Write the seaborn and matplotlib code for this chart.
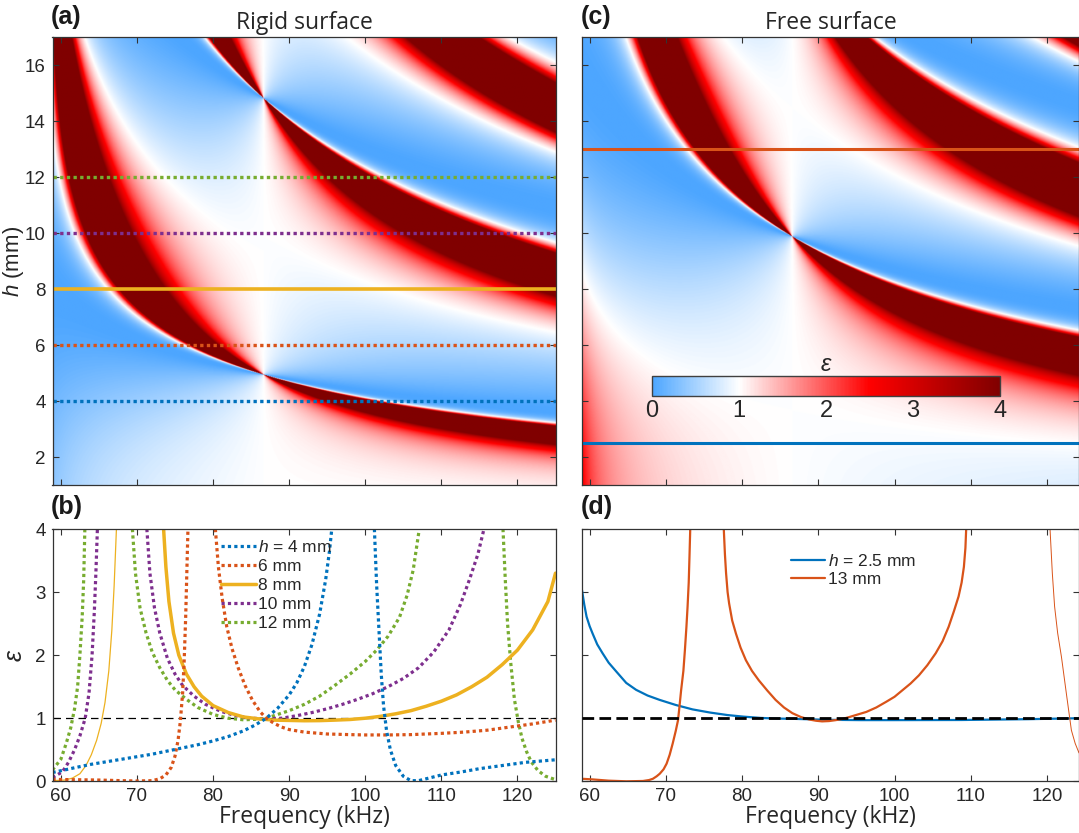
import numpy as np
import pandas as pd
import matplotlib
matplotlib.use("Agg")
import matplotlib.pyplot as plt
from matplotlib.colors import LinearSegmentedColormap
from matplotlib.lines import Line2D
import seaborn as sns

CUT_P = 56.9        # kHz, cutoff of guided wave (pole lines)
GAIN_P = 0.004873   # rad/(mm kHz)
CUT_Z = 41.2        # kHz (zero lines)
GAIN_Z = 0.0472     # rad/(mm kHz^0.5)
F_RANGE_A = [58.9, 125.0]
F_RANGE_C = [59.0, 124.2]
H_RANGE = [1.0, 17.0]

# cut lines drawn on the maps
cuts_a_h = [4, 6, 8, 10, 12]
cuts_a_colors = ['#0072BD', '#D95319', '#EDB120', '#7E2F8E', '#77AC30']
cuts_a_solid = [False, False, True, False, False]
cuts_c_h = [2.5, 13]
cuts_c_colors = ['#0072BD', '#D95319']

# ---------------- panel (b): eps along the cuts ----------------
b_h4_f1 = [58.9, 60.5, 62, 64, 66, 68, 70, 72, 74, 76, 78, 80, 82, 84, 85.5, 87, 88.5, 90, 91, 92, 93, 94, 94.8, 95.3, 95.6]
b_h4_e1 = [0.14, 0.18, 0.22, 0.27, 0.31, 0.35, 0.39, 0.43, 0.48, 0.53, 0.58, 0.64, 0.71, 0.80, 0.89, 1.0, 1.16, 1.37, 1.56, 1.82, 2.17, 2.65, 3.2, 3.65, 4.0]
b_h4_f2 = [101.2, 101.5, 101.8, 102.1, 102.4, 102.8, 103.3, 104, 105, 106, 107, 108, 110, 112.7, 115, 118, 121, 124.9]
b_h4_e2 = [4.0, 3.1, 2.4, 1.7, 1.2, 0.8, 0.5, 0.25, 0.08, 0.01, 0.01, 0.04, 0.1, 0.15, 0.2, 0.25, 0.3, 0.34]
b_h6_f1 = [58.9, 62, 65, 68, 70, 72, 73, 73.8, 74.5, 75, 75.4, 75.7, 76.0, 76.2, 76.4, 76.55, 76.7]
b_h6_e1 = [0.03, 0.025, 0.02, 0.01, 0.005, 0.01, 0.04, 0.1, 0.22, 0.4, 0.65, 0.95, 1.4, 1.9, 2.6, 3.3, 4.0]
b_h6_f2 = [80.3, 80.7, 81.2, 81.8, 82.5, 83.3, 84.2, 85.2, 86.2, 87, 88, 89, 90, 92, 95, 98, 100, 103, 106, 110, 113, 116, 119, 122, 125]
b_h6_e2 = [4.0, 3.4, 2.9, 2.45, 2.1, 1.8, 1.52, 1.28, 1.1, 1.0, 0.92, 0.86, 0.82, 0.78, 0.75, 0.74, 0.735, 0.735, 0.74, 0.76, 0.78, 0.81, 0.86, 0.91, 0.97]
b_h8_f1 = [58.9, 60.5, 61.5, 62.5, 63.3, 64, 64.7, 65.3, 65.8, 66.3, 66.7, 67.0, 67.3]
b_h8_e1 = [0.01, 0.02, 0.05, 0.12, 0.25, 0.42, 0.65, 0.92, 1.25, 1.75, 2.4, 3.1, 4.0]
b_h8_f2 = [73.5, 73.8, 74.2, 74.8, 75.5, 76.5, 77.5, 78.5, 80, 82, 84, 86, 88, 90, 92, 94, 96, 98, 100, 102, 104, 106, 108, 110, 112, 114, 116, 118, 120, 122, 124, 125]
b_h8_e2 = [4.0, 3.4, 2.85, 2.35, 2.0, 1.7, 1.5, 1.35, 1.2, 1.09, 1.02, 0.99, 0.97, 0.965, 0.96, 0.962, 0.97, 0.98, 1.0, 1.03, 1.07, 1.12, 1.19, 1.27, 1.37, 1.5, 1.65, 1.85, 2.08, 2.4, 2.85, 3.3]
b_h10_f1 = [58.9, 60.2, 61, 61.8, 62.5, 63.2, 63.7, 64.1, 64.4, 64.6, 64.8]
b_h10_e1 = [0.06, 0.15, 0.3, 0.5, 0.72, 1.0, 1.4, 2.0, 2.7, 3.3, 4.0]
b_h10_f2 = [71.3, 71.7, 72.3, 73, 74, 75, 76, 77.5, 79, 81, 83, 85, 87, 89, 91, 93, 95, 97, 99, 101, 103, 105, 107, 109, 111, 112.5, 113.7, 114.8, 115.6]
b_h10_e2 = [4.0, 3.3, 2.75, 2.35, 1.95, 1.7, 1.52, 1.35, 1.22, 1.11, 1.04, 1.0, 0.99, 1.0, 1.04, 1.09, 1.15, 1.22, 1.3, 1.39, 1.5, 1.63, 1.8, 2.05, 2.4, 2.8, 3.2, 3.6, 4.0]
b_h12_f1 = [58.9, 60, 60.7, 61.3, 61.8, 62.2, 62.5, 62.8, 63.0, 63.15]
b_h12_e1 = [0.18, 0.35, 0.6, 0.85, 1.15, 1.5, 2.0, 2.6, 3.2, 4.0]
b_h12_f2 = [69.4, 69.8, 70.4, 71.2, 72, 73, 74, 75, 76.5, 78, 80, 82, 84, 86, 87, 88, 90, 92, 94, 96, 98, 100, 101.5, 103, 104.5, 105.5, 106.3, 107.1]
b_h12_e2 = [4.0, 3.3, 2.75, 2.35, 2.05, 1.8, 1.6, 1.45, 1.3, 1.17, 1.06, 1.0, 0.975, 0.985, 1.0, 1.04, 1.12, 1.22, 1.35, 1.52, 1.7, 1.9, 2.08, 2.3, 2.6, 2.95, 3.35, 4.0]
b_h12_f3 = [118.1, 118.4, 118.7, 119.1, 119.6, 120.1, 120.6, 121.2, 121.8, 122.7, 123.7, 124.9]
b_h12_e3 = [4.0, 3.2, 2.5, 1.9, 1.3, 0.95, 0.68, 0.47, 0.31, 0.17, 0.08, 0.03]

# ---------------- panel (d) ----------------
d_h25_f = [59.0, 59.3, 59.6, 60.0, 60.4, 61.0, 61.7, 62.5, 63.5, 64.8, 66.1, 67.6, 69.2, 71.3, 73.5, 75.8, 78.1, 80.2, 82.4, 84.5, 86.8, 91.2, 95.6, 100, 108.8, 117.6, 124.2]
d_h25_e = [3.03, 2.8, 2.61, 2.46, 2.34, 2.17, 2.03, 1.88, 1.74, 1.56, 1.45, 1.36, 1.29, 1.21, 1.14, 1.09, 1.05, 1.025, 1.005, 0.995, 0.99, 0.975, 0.97, 0.97, 0.972, 0.985, 1.0]
d_h13_f1 = [59.0, 60.4, 62.5, 64.8, 67, 67.8, 68.3, 68.8, 69.2, 69.7, 70.1, 70.5, 70.9, 71.3, 71.6, 71.8, 72.0, 72.3, 72.5, 72.7, 72.85, 73.0, 73.1, 73.2]
d_h13_e1 = [0.04, 0.03, 0.01, 0.0, 0.005, 0.02, 0.04, 0.08, 0.12, 0.19, 0.28, 0.42, 0.6, 0.8, 0.97, 1.2, 1.44, 1.75, 2.08, 2.45, 2.77, 3.15, 3.56, 4.0]
d_h13_f2 = [77.6, 77.75, 77.9, 78.1, 78.3, 78.7, 79.2, 79.8, 80.5, 81.3, 82.2, 83.3, 84.4, 85.5, 86.6, 87.7, 88.8, 89.7, 90.5, 91.4, 92.3, 93.2, 94.1, 95.2, 96.3, 97.6, 98.9, 100, 101, 102.1, 103.2, 104.3, 105.4, 106.3, 107.1, 107.8, 108.4, 108.8, 109.1, 109.3, 109.4]
d_h13_e2 = [4.0, 3.6, 3.3, 3.0, 2.82, 2.55, 2.34, 2.12, 1.92, 1.75, 1.6, 1.44, 1.29, 1.17, 1.08, 1.02, 0.98, 0.96, 0.95, 0.955, 0.97, 0.99, 1.02, 1.06, 1.1, 1.17, 1.26, 1.34, 1.44, 1.55, 1.68, 1.84, 2.03, 2.22, 2.45, 2.7, 2.93, 3.15, 3.4, 3.7, 4.0]
d_h13_f3 = [120.4, 120.7, 121.0, 121.4, 121.9, 122.6, 123.2, 123.7, 124.2]
d_h13_e3 = [4.0, 3.3, 2.77, 2.35, 1.97, 1.34, 0.81, 0.6, 0.45]

# ---------------- style ----------------
sns.set_theme(style="ticks")
plt.rcParams['font.family'] = ['Liberation Sans', 'DejaVu Sans']
plt.rcParams['mathtext.fontset'] = 'custom'
plt.rcParams['mathtext.it'] = 'Liberation Sans:italic'
plt.rcParams['mathtext.rm'] = 'Liberation Sans'
TXT = '#262626'
SPINE = '#333333'

cmap = LinearSegmentedColormap.from_list(
    'eps', [(0.0, '#4DA6FF'), (0.25, '#FFFFFF'), (0.625, '#FF0000'), (1.0, '#800000')])

W, H = 1079, 833
fig = plt.figure(figsize=(W / 100, H / 100), dpi=100)

def rect(l, t, r, b):
    return [l / W, 1 - b / H, (r - l) / W, (b - t) / H]

ax_a = fig.add_axes(rect(52.5, 37.3, 555.5, 485))
ax_b = fig.add_axes(rect(52.5, 529, 555.5, 781.3))
ax_c = fig.add_axes(rect(582, 37.3, 1079, 485))
ax_d = fig.add_axes(rect(582, 529, 1079, 781.3))

def wave_k(f):
    return GAIN_P * np.sqrt(f ** 2 - CUT_P ** 2)

def coupling_k(f):
    return GAIN_Z * np.sqrt(f - CUT_Z)

def field(frange, kind):
    f = np.linspace(frange[0], frange[1], 900)
    h = np.linspace(H_RANGE[0], H_RANGE[1], 800)
    F, Hh = np.meshgrid(f, h)
    kp, kz = wave_k(F), coupling_k(F)
    with np.errstate(divide='ignore', invalid='ignore'):
        if kind == 'rigid':
            e = np.minimum(kp / kz, 1.0) * np.cos(kz * Hh) ** 2 / np.cos(kp * Hh) ** 2
        else:
            e = (kp / kz) * np.sin(kz * Hh) ** 2 / np.sin(kp * Hh) ** 2
    return np.nan_to_num(e, nan=1.0, posinf=10.0)

def style_axes(ax):
    for s in ax.spines.values():
        s.set_color(SPINE)
        s.set_linewidth(0.9)
        s.set_visible(True)
    ax.tick_params(direction='in', length=4.5, width=0.8, top=True, right=True,
                   colors=SPINE, labelcolor=TXT, labelsize=13.5, pad=5)

DOT = (0, (1, 1))
TITLE_FONT = dict(fontsize=16.5, family='Open Sans', color=TXT)

# ---- (a) ----
im = ax_a.imshow(field(F_RANGE_A, 'rigid'), origin='lower', aspect='auto', cmap=cmap,
                 vmin=0, vmax=4, extent=[*F_RANGE_A, *H_RANGE], interpolation='bilinear')
for h, c, solid in zip(cuts_a_h, cuts_a_colors, cuts_a_solid):
    if solid:
        ax_a.axhline(h, color=c, lw=2.6)
    else:
        ax_a.axhline(h, color=c, lw=2.4, ls=DOT, dash_capstyle='butt')
ax_a.set_xlim(F_RANGE_A); ax_a.set_ylim(H_RANGE)
ax_a.set_xticks([60, 70, 80, 90, 100, 110, 120]); ax_a.set_xticklabels([])
ax_a.set_yticks([2, 4, 6, 8, 10, 12, 14, 16])
style_axes(ax_a)
ax_a.set_ylabel('$h$ (mm)', fontsize=16, color=TXT)
ax_a.yaxis.set_label_coords(-0.052, 0.5)
ax_a.set_title('Rigid surface', pad=6, **TITLE_FONT)

# ---- (c) ----
ax_c.imshow(field(F_RANGE_C, 'free'), origin='lower', aspect='auto', cmap=cmap,
            vmin=0, vmax=4, extent=[*F_RANGE_C, *H_RANGE], interpolation='bilinear')
for h, c in zip(cuts_c_h, cuts_c_colors):
    ax_c.axhline(h, color=c, lw=2.2)
ax_c.set_xlim(F_RANGE_C); ax_c.set_ylim(H_RANGE)
ax_c.set_xticks([60, 70, 80, 90, 100, 110, 120]); ax_c.set_xticklabels([])
ax_c.set_yticks([2, 4, 6, 8, 10, 12, 14, 16]); ax_c.set_yticklabels([])
style_axes(ax_c)
ax_c.set_title('Free surface', pad=6, **TITLE_FONT)

cax = fig.add_axes(rect(652, 376, 1000, 396))
cb = fig.colorbar(im, cax=cax, orientation='horizontal', ticks=[0, 1, 2, 3, 4])
cb.outline.set_edgecolor('#404040'); cb.outline.set_linewidth(1.0)
cax.tick_params(direction='in', length=3, width=0.6, colors='#404040', labelcolor=TXT, labelsize=17, pad=3)
cax.set_title('ε', fontsize=17, style='italic', color=TXT, pad=3)

# ---- line panels ----
def draw(ax, f, e, color, lw, dotted=False):
    df = pd.DataFrame({'Frequency': f, 'eps': e})
    kw = dict(ls=DOT, dash_capstyle='butt') if dotted else {}
    sns.lineplot(data=df, x='Frequency', y='eps', ax=ax, color=color, lw=lw,
                 sort=False, estimator=None, legend=False, **kw)

ax_b.axhline(1, color='black', lw=0.9, ls=(0, (6, 4)))
draw(ax_b, b_h12_f1, b_h12_e1, cuts_a_colors[4], 2.3, True)
draw(ax_b, b_h12_f2, b_h12_e2, cuts_a_colors[4], 2.3, True)
draw(ax_b, b_h12_f3, b_h12_e3, cuts_a_colors[4], 2.3, True)
draw(ax_b, b_h10_f1, b_h10_e1, cuts_a_colors[3], 2.3, True)
draw(ax_b, b_h10_f2, b_h10_e2, cuts_a_colors[3], 2.3, True)
draw(ax_b, b_h8_f1, b_h8_e1, cuts_a_colors[2], 0.9)
draw(ax_b, b_h8_f2, b_h8_e2, cuts_a_colors[2], 2.5)
draw(ax_b, b_h6_f1, b_h6_e1, cuts_a_colors[1], 2.3, True)
draw(ax_b, b_h6_f2, b_h6_e2, cuts_a_colors[1], 2.3, True)
draw(ax_b, b_h4_f1, b_h4_e1, cuts_a_colors[0], 2.3, True)
draw(ax_b, b_h4_f2, b_h4_e2, cuts_a_colors[0], 2.3, True)
ax_b.set_xlim(F_RANGE_A); ax_b.set_ylim(0, 4)
ax_b.set_xticks([60, 70, 80, 90, 100, 110, 120]); ax_b.set_yticks([0, 1, 2, 3, 4])
ax_b.set_xlabel('Frequency (kHz)', labelpad=0, **TITLE_FONT)
style_axes(ax_b)
ax_b.set_ylabel('ε', fontsize=18, style='italic', color=TXT)
ax_b.yaxis.set_label_coords(-0.052, 0.5)
hb = [Line2D([], [], color=c, lw=(2.5 if s else 2.3), ls=('-' if s else DOT), dash_capstyle='butt')
      for c, s in zip(cuts_a_colors, cuts_a_solid)]
lb = ['$h$ = 4 mm', '6 mm', '8 mm', '10 mm', '12 mm']
ax_b.legend(hb, lb, loc='upper left', bbox_to_anchor=(0.335, 0.96), frameon=False,
            fontsize=12.5, handlelength=2.0, handletextpad=0.15, labelspacing=0.22,
            borderpad=0, borderaxespad=0)

ax_d.axhline(1, color='black', lw=2.0, ls=(0, (4.2, 1.9)), zorder=3)
draw(ax_d, d_h25_f, d_h25_e, cuts_c_colors[0], 1.6)
draw(ax_d, d_h13_f1, d_h13_e1, cuts_c_colors[1], 1.6)
draw(ax_d, d_h13_f2, d_h13_e2, cuts_c_colors[1], 1.6)
draw(ax_d, d_h13_f3, d_h13_e3, cuts_c_colors[1], 0.7)
ax_d.set_xlim(F_RANGE_C); ax_d.set_ylim(0, 4)
ax_d.set_xticks([60, 70, 80, 90, 100, 110, 120]); ax_d.set_yticks([0, 1, 2, 3, 4])
ax_d.set_yticklabels([])
ax_d.set_xlabel('Frequency (kHz)', labelpad=0, **TITLE_FONT)
ax_d.set_ylabel('')
style_axes(ax_d)
hd = [Line2D([], [], color=c, lw=1.6) for c in cuts_c_colors]
ax_d.legend(hd, ['$h$ = 2.5 mm', '13 mm'], loc='upper left', bbox_to_anchor=(0.42, 0.905),
            frameon=False, fontsize=12.5, handlelength=2.0, handletextpad=0.15,
            labelspacing=0.15, borderpad=0, borderaxespad=0)

# panel letters
for x, y, s in [(51, 17, '(a)'), (51, 507, '(b)'), (581, 17, '(c)'), (581, 507, '(d)')]:
    fig.text(x / W, 1 - y / H, s, fontsize=18, fontweight='bold', color='#1a1a1a',
             ha='left', va='center')

fig.savefig('out.png', dpi=100)
